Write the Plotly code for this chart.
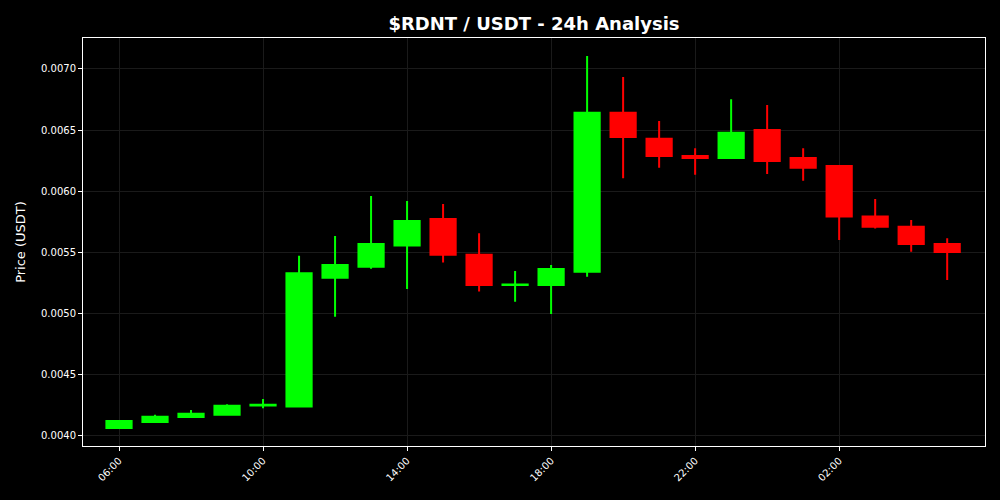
import plotly.graph_objects as go
import pandas as pd

times = pd.date_range("2024-01-01 06:00", periods=24, freq="h")
opens = [0.004065, 0.004114, 0.004155, 0.004174, 0.004250, 0.004240, 0.005294, 0.005384,
         0.005556, 0.005774, 0.005482, 0.005235, 0.005234, 0.005343, 0.006643, 0.006430,
         0.006288, 0.006272, 0.006501, 0.006272, 0.006207, 0.005793, 0.005711, 0.005569]
highs = [0.004131, 0.004174, 0.004213, 0.004259, 0.004302, 0.005474, 0.005635, 0.005962,
         0.005921, 0.005896, 0.005657, 0.005349, 0.005398, 0.007106, 0.006934, 0.006575,
         0.006352, 0.006752, 0.006706, 0.006352, 0.006215, 0.005937, 0.005766, 0.005616]
lows = [0.004065, 0.004114, 0.004150, 0.004174, 0.004226, 0.004240, 0.004975, 0.005367,
        0.005202, 0.005417, 0.005180, 0.005098, 0.004997, 0.005302, 0.006106, 0.006193,
        0.006136, 0.006272, 0.006142, 0.006087, 0.005602, 0.005695, 0.005506, 0.005275]
closes = [0.004123, 0.004158, 0.004182, 0.004248, 0.004255, 0.005330, 0.005398, 0.005569,
          0.005757, 0.005482, 0.005234, 0.005238, 0.005365, 0.006643, 0.006444, 0.006289,
          0.006272, 0.006479, 0.006248, 0.006193, 0.005793, 0.005711, 0.005569, 0.005504]

tick_vals = pd.date_range("2024-01-01 06:00", periods=6, freq="4h")
tick_text = [t.strftime("%H:%M") for t in tick_vals]
y_ticks = [0.0040, 0.0045, 0.0050, 0.0055, 0.0060, 0.0065, 0.0070]

fig = go.Figure(go.Candlestick(
    x=times, open=opens, high=highs, low=lows, close=closes,
    increasing=dict(line=dict(color="#00ff00", width=2), fillcolor="#00ff00"),
    decreasing=dict(line=dict(color="#ff0000", width=2), fillcolor="#ff0000"),
    whiskerwidth=0, showlegend=False,
))

fig.update_layout(
    width=1000, height=500,
    paper_bgcolor="black", plot_bgcolor="black",
    margin=dict(l=83, r=15, t=38, b=54),
    boxgap=0.3, boxgroupgap=0,
    title=dict(text="<b>$RDNT / USDT - 24h Analysis</b>", x=0.534, xanchor="center",
               y=0.953, yanchor="middle",
               font=dict(family="DejaVu Sans", size=18, color="white")),
    font=dict(family="DejaVu Sans", color="white", size=11),
)
grid = dict(showgrid=True, gridcolor="#1a1a1a", gridwidth=1,
            ticks="outside", ticklen=4, tickcolor="white",
            showline=True, linecolor="white", linewidth=1, mirror=True, zeroline=False)
fig.update_xaxes(
    rangeslider_visible=False,
    range=[pd.Timestamp("2024-01-01 05:00"), pd.Timestamp("2024-01-02 06:03")],
    tickvals=tick_vals, ticktext=tick_text, tickangle=-45,
    tickfont=dict(size=10, color="white"),
    **grid,
)
fig.update_yaxes(
    range=[0.003918, 0.007253],
    tickvals=y_ticks, tickformat=".4f",
    tickfont=dict(size=10, color="white"),
    title=dict(text="Price (USDT)", font=dict(size=13, color="white"), standoff=12),
    **grid,
)

fig.write_html(
    "out.html",
    config={"displayModeBar": False},
    post_script="document.body.style.margin='0';document.body.style.background='black';",
)
